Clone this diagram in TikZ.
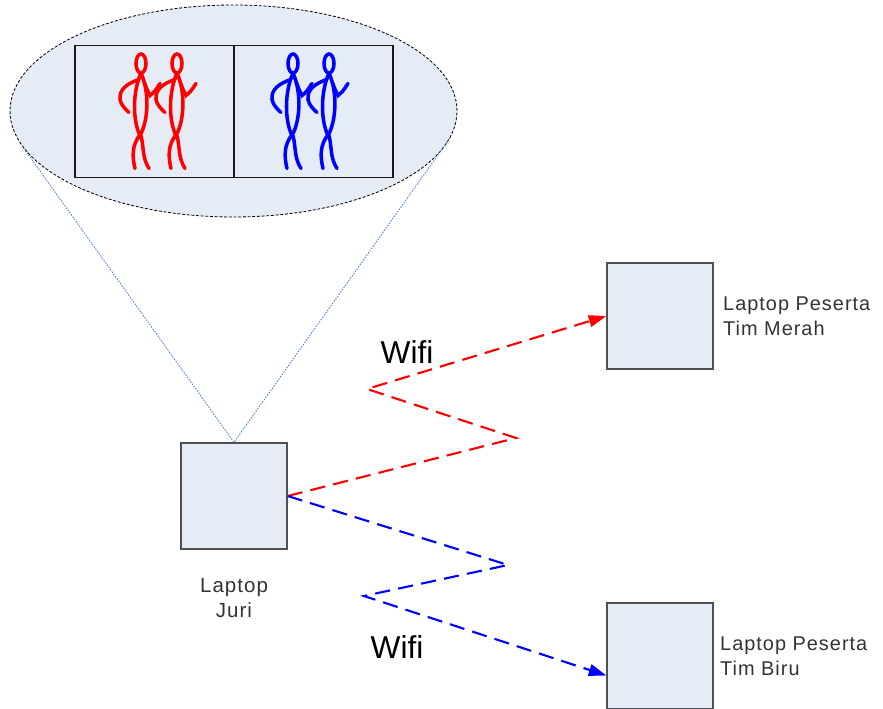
\documentclass[tikz,border=0pt]{standalone}
\usepackage{fontspec}
\usepackage{tikz}
\usetikzlibrary{shapes.geometric,arrows.meta}

\setmainfont{Liberation Sans}
\newfontfamily\lblfont{Liberation Sans}[LetterSpace=5.0]

\definecolor{boxfill}{RGB}{230,236,246}
\definecolor{boxline}{RGB}{80,80,80}
\definecolor{zoomblue}{RGB}{70,120,200}
\definecolor{wred}{RGB}{255,0,0}
\definecolor{wblue}{RGB}{0,0,255}

% one stick figure, head centre at the pic origin
\tikzset{dancer/.pic={
  \draw (0,0) ellipse [x radius=5, y radius=9.5];
  \draw (0,9.5) .. controls (-9,30) and (-8,58) .. (-1,72) .. controls (7,58) and (9,30) .. (0,9.5);
  \draw (-2,16) .. controls (-14,20) and (-22,26) .. (-21,36) .. controls (-20,42) and (-15,46) .. (-12,49);
  \draw (3,18) .. controls (6,26) .. (9,32) .. controls (13,29) .. (19,20);
  \draw (-1,71) .. controls (-9,82) and (-9,92) .. (-6,105);
  \draw (0,72) .. controls (3,84) and (1,94) .. (8,105);
}}

\begin{document}
\begin{tikzpicture}[x=0.03cm,y=-0.03cm,
  laptop/.style={draw=boxline,line width=1.1pt,fill=boxfill,minimum size=3.18cm,inner sep=0pt},
  panel/.style={draw=black!90,line width=1pt,fill=boxfill,minimum width=4.77cm,minimum height=3.96cm,inner sep=0pt},
  lbl/.style={inner sep=0pt,align=left,text=black!80,font=\lblfont\fontsize{17}{21}\selectfont},
  wifi/.style={inner sep=0pt,font=\fontsize{27}{30}\selectfont},
  zoomline/.style={zoomblue,line width=0.7pt,dash pattern=on 1.3pt off 1.1pt},
  redlink/.style={wred,line width=1.8pt,dash pattern=on 13pt off 7pt,-{Triangle[length=15pt,width=10pt]}},
  bluelink/.style={wblue,line width=1.8pt,dash pattern=on 13pt off 7pt,-{Triangle[length=15pt,width=10pt]}},
  figure/.style={line width=3pt,line cap=round}]
\useasboundingbox (0,0) rectangle (883,709);

% zoom bubble with the two teams
\node[ellipse,draw,fill=boxfill,line width=0.7pt,dash pattern=on 2.5pt off 1.5pt,
  minimum width=13.41cm,minimum height=6.36cm,inner sep=0pt] (zoom) at (233.5,111) {};
\node[panel] (redpanel) at (154.5,111.5) {};
\node[panel] (bluepanel) at (313.5,111.5) {};
\foreach \hx in {141,177}
  \pic[wred,figure] at (\hx,63.5) {dancer};
\foreach \hx in {293,329}
  \pic[wblue,figure] at (\hx,63.5) {dancer};

% laptops
\node[laptop] (juri) at (234,496) {};
\node[laptop] (merah) at (660,316) {};
\node[laptop] (biru) at (660,656) {};

\node[lbl,align=center,font=\lblfont\fontsize{17.5}{21}\selectfont] (jurilbl) at (234,598) {Laptop\\Juri};
\node[lbl,anchor=west] (merahlbl) at (723,316) {Laptop Peserta\\Tim Merah};
\node[lbl,anchor=west] (birulbl) at (720,656) {Laptop Peserta\\Tim Biru};

\draw[zoomline] (zoom.190) -- (juri.north);
\draw[zoomline] (zoom.353) -- (juri.north);

% wifi links
\coordinate (r1) at (516,438);
\coordinate (r2) at (367,389);
\coordinate (b1) at (508,565);
\coordinate (b2) at (364,596);
\draw[redlink] (juri.east) -- (r1) -- (r2) -- (merah.west);
\draw[bluelink] (juri.east) -- (b1) -- (b2) -- (biru.200);

\node[wifi] (wifired) at (407,352) {Wifi};
\node[wifi] (wifiblue) at (397,647) {Wifi};
\end{tikzpicture}
\end{document}
